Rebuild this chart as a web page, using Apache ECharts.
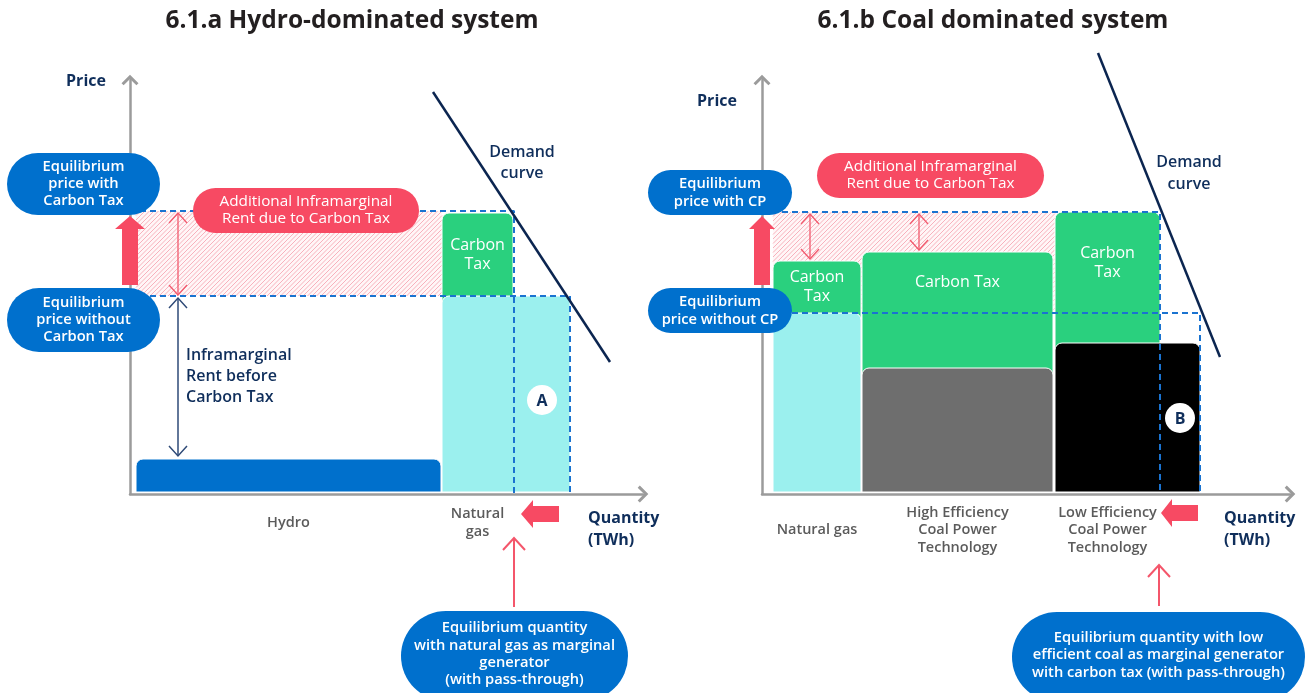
<!DOCTYPE html>
<html><head><meta charset="utf-8">
<script src="https://cdn.jsdelivr.net/npm/echarts@6/dist/echarts.min.js"></script>
<style>html,body{margin:0;padding:0;background:#fff}#c{width:1307px;height:693px}</style>
</head><body><div id="c"></div>
<script>
// ---------- Panel a: hydro-dominated system (schematic units) ----------
const catsA = ['Hydro', 'Natural\ngas'];
const qStartA = [6, 312];
const qEndA = [311, 440];
const costA = [35, 198];
const taxEndA = [null, 383];
const taxTopA = [null, 281];
const taxLabelsA = [null, 'Carbon\nTax'];
const priceNoTaxA = 198, priceTaxA = 283;
const eqQNoTaxA = 440, eqQTaxA = 384;
const demandA = [[303, 402], [480, 132]];
const extraRentArrowsA = [[48, 199, 281]];
const rentBeforeArrowsA = [[48, 38, 196]];

// ---------- Panel b: coal dominated system ----------
const catsB = ['Natural gas', 'High Efficiency\nCoal Power\nTechnology', 'Low Efficiency\nCoal Power\nTechnology'];
const qStartB = [11, 100, 293];
const qEndB = [99, 291, 438];
const costB = [181, 126, 151];
const taxEndB = [99, 291, 398];
const taxTopB = [233, 242, 282];
const taxLabelsB = ['Carbon\nTax', 'Carbon Tax', 'Carbon\nTax'];
const priceNoTaxB = 181, priceTaxB = 282;
const eqQNoTaxB = 438, eqQTaxB = 398;
const demandB = [[336, 441], [458, 137]];
const extraRentArrowsB = [[48, 235, 280], [157, 244, 280]];

// ---------- styles ----------
const baseColorsA = ['#0070CC', '#9BF0EE'];
const baseColorsB = ['#9BF0EE', '#6E6E6E', '#000000'];
const GREEN = '#2AD07E', NAVY = '#0F2E5B', BLUE = '#0070CD', RED = '#F74A63';
const FONT = '"Open Sans", "Noto Sans", sans-serif';

function txt(text, x, y, font, fill, align, lh) {
  return { text, x, y, font, fill, align: align || 'center', verticalAlign: 'middle',
           textAlign: align || 'center', textVerticalAlign: 'middle', lineHeight: lh || 20 };
}

function blocksRenderer(qs, qe, cost, te, tt, taxLbl, cats, colors, pNoTax, labelDy) {
  return function (params, api) {
    const i = params.dataIndex;
    const ch = [];
    if (te[i] != null) {
      const t0 = api.coord([qs[i], cost[i] - 12]);
      const t1 = api.coord([te[i], tt[i]]);
      ch.push({ type: 'rect', shape: { x: t0[0], y: t1[1], width: t1[0] - t0[0], height: t0[1] - t1[1], r: [7, 7, 0, 0] },
                style: { fill: GREEN, stroke: '#fff', lineWidth: 1 } });
    }
    const b0 = api.coord([qs[i], 2]);
    const b1 = api.coord([qe[i], cost[i]]);
    ch.push({ type: 'rect', shape: { x: b0[0], y: b1[1], width: b1[0] - b0[0], height: b0[1] - b1[1], r: [7, 7, 0, 0] },
              style: { fill: colors[i], stroke: '#fff', lineWidth: 1 } });
    if (te[i] != null) {
      const c = api.coord([(qs[i] + te[i]) / 2, (tt[i] + pNoTax) / 2]);
      ch.push({ type: 'text', z2: 5, style: txt(taxLbl[i], c[0], c[1], '16px ' + FONT, '#ffffff', 'center', 19) });
    }
    const lx = (qs[i] + (te[i] != null ? te[i] : qe[i])) / 2;
    const lp = api.coord([lx, 0]);
    ch.push({ type: 'text', style: txt(cats[i], lp[0], lp[1] + labelDy, '600 14.5px ' + FONT, '#5B5B5B', 'center', 17.5) });
    return { type: 'group', children: ch };
  };
}

// diagonal pink hatching between the two equilibrium prices
function hatchRenderer(q0, q1, p0, p1) {
  return function (params, api) {
    const a = api.coord([q0, p0]), b = api.coord([q1, p1]);
    const x0 = a[0], x1 = b[0], yb = a[1], yt = b[1], h = yb - yt;
    const ch = [{ type: 'rect', shape: { x: x0, y: yt, width: x1 - x0, height: h }, style: { fill: '#FFF6F7' } }];
    const step = 4.5;
    for (let s = x0 - h; s < x1; s += step) {
      const t0 = Math.max(0, x0 - s), t1 = Math.min(h, x1 - s);
      if (t1 <= t0) continue;
      ch.push({ type: 'line', shape: { x1: s + t0, y1: yb - t0, x2: s + t1, y2: yb - t1 },
                style: { stroke: '#F6A9B4', lineWidth: 0.9 } });
    }
    return { type: 'group', children: ch };
  };
}

function dblArrowRenderer(color, width) {
  return function (params, api) {
    const lo = api.coord([api.value(0), api.value(1)]);
    const hi = api.coord([api.value(0), api.value(2)]);
    const x = lo[0];
    const st = { stroke: color, lineWidth: width, fill: null };
    return { type: 'group', children: [
      { type: 'line', shape: { x1: x, y1: lo[1], x2: x, y2: hi[1] }, style: st },
      { type: 'polyline', shape: { points: [[x - 9, hi[1] + 10], [x, hi[1]], [x + 9, hi[1] + 10]] }, style: st },
      { type: 'polyline', shape: { points: [[x - 9, lo[1] - 10], [x, lo[1]], [x + 9, lo[1] - 10]] }, style: st }
    ] };
  };
}

const CHEVRON = 'path://M10,0L20,10L17.5,12.5L10,5L2.5,12.5L0,10Z';
function axisDef(grid, max) {
  return { gridIndex: grid, type: 'value', min: 0, max: max,
    axisLine: { show: true, onZero: false, lineStyle: { color: '#9B9B9B', width: 2.5 }, symbol: ['none', CHEVRON], symbolSize: [17, 11] },
    axisTick: { show: false }, axisLabel: { show: false }, splitLine: { show: false } };
}

function dashed(grid, pts) {
  return { type: 'line', xAxisIndex: grid, yAxisIndex: grid, data: pts, symbol: 'none', z: 3, silent: true,
           lineStyle: { color: '#1A73D0', width: 2, type: [6, 4] } };
}

function panelSeries(g, d) {
  return [
    { type: 'custom', xAxisIndex: g, yAxisIndex: g, z: 1, silent: true, data: [0],
      renderItem: hatchRenderer(d.qs[0], d.qs[d.qs.length - 1], d.pNo, d.pTax) },
    { type: 'custom', xAxisIndex: g, yAxisIndex: g, z: 2, silent: true,
      data: d.qs.map((q, i) => [q, d.qe[i], d.cost[i]]),
      renderItem: blocksRenderer(d.qs, d.qe, d.cost, d.te, d.tt, d.tl, d.cats, d.colors, d.pNo, d.labelDy) },
    dashed(g, [[0, d.pTax], [d.eqTax, d.pTax], [d.eqTax, 0]]),
    dashed(g, [[0, d.pNo], [d.eqNo, d.pNo], [d.eqNo, 0]]),
    { type: 'custom', xAxisIndex: g, yAxisIndex: g, z: 4, silent: true, data: d.pink,
      renderItem: dblArrowRenderer('#F25A6E', 1.3) },
    { type: 'line', xAxisIndex: g, yAxisIndex: g, z: 5, clip: false, silent: true, data: d.demand, symbol: 'none',
      lineStyle: { color: '#0B2550', width: 2.5 } }
  ];
}

const series = [].concat(
  panelSeries(0, { qs: qStartA, qe: qEndA, cost: costA, te: taxEndA, tt: taxTopA, tl: taxLabelsA, cats: catsA,
    colors: baseColorsA, pNo: priceNoTaxA, pTax: priceTaxA, eqNo: eqQNoTaxA, eqTax: eqQTaxA,
    demand: demandA, pink: extraRentArrowsA, labelDy: 29 }),
  panelSeries(1, { qs: qStartB, qe: qEndB, cost: costB, te: taxEndB, tt: taxTopB, tl: taxLabelsB, cats: catsB,
    colors: baseColorsB, pNo: priceNoTaxB, pTax: priceTaxB, eqNo: eqQNoTaxB, eqTax: eqQTaxB,
    demand: demandB, pink: extraRentArrowsB, labelDy: 36 }),
  [{ type: 'custom', xAxisIndex: 0, yAxisIndex: 0, z: 4, silent: true, data: rentBeforeArrowsA,
     renderItem: dblArrowRenderer('#2E4A77', 1.5) }]
);

// ---------- annotations ----------
function pill(x, y, w, h, color, text, font, lh, ty) {
  return { type: 'group', z: 100, children: [
    { type: 'rect', z: 100, shape: { x, y, width: w, height: h, r: h / 2 }, style: { fill: color } },
    { type: 'text', z: 101, style: txt(text, x + w / 2, ty != null ? ty : y + h / 2, font, '#ffffff', 'center', lh) }
  ] };
}
function label(text, x, y, font, fill, align, lh) {
  return { type: 'text', z: 100, style: txt(text, x, y, font, fill, align, lh) };
}
function upArrow(cx, tipY, baseY, bottomY, shaftHalf, headHalf) {
  return { type: 'polygon', z: 99, shape: { points: [[cx, tipY], [cx + headHalf, baseY], [cx + shaftHalf, baseY], [cx + shaftHalf, bottomY],
    [cx - shaftHalf, bottomY], [cx - shaftHalf, baseY], [cx - headHalf, baseY]] }, style: { fill: RED } };
}
function leftArrow(tipX, baseX, endX, cy, shaftHalf, headHalf) {
  return { type: 'polygon', z: 99, shape: { points: [[tipX, cy], [baseX, cy - headHalf], [baseX, cy - shaftHalf], [endX, cy - shaftHalf],
    [endX, cy + shaftHalf], [baseX, cy + shaftHalf], [baseX, cy + headHalf]] }, style: { fill: RED } };
}
function thinUp(x, top, bottom) {
  return { type: 'group', z: 99, children: [
    { type: 'line', z: 99, shape: { x1: x, y1: bottom, x2: x, y2: top }, style: { stroke: '#F4566B', lineWidth: 2 } },
    { type: 'polyline', z: 99, shape: { points: [[x - 11, top + 12], [x, top], [x + 11, top + 12]] }, style: { stroke: '#F4566B', lineWidth: 2, fill: null } }
  ] };
}
function circleLabel(t, cx, cy) {
  return { type: 'group', z: 100, children: [
    { type: 'circle', z: 100, shape: { cx, cy, r: 15 }, style: { fill: '#ffffff' } },
    { type: 'text', z: 101, style: txt(t, cx, cy + 1, 'bold 16px ' + FONT, NAVY, 'center', 18) }
  ] };
}

const PF = '600 14.7px ' + FONT, RF = '15.3px ' + FONT;
const graphics = [
  label('6.1.a Hydro-dominated system', 352, 21, 'bold 24.5px ' + FONT, '#231F20'),
  label('6.1.b Coal dominated system', 993, 21, 'bold 24.5px ' + FONT, '#231F20'),
  label('Price', 86, 81, 'bold 16px ' + FONT, NAVY),
  label('Price', 717, 101, 'bold 16px ' + FONT, NAVY),
  label('Demand\ncurve', 522, 163, '600 16px ' + FONT, NAVY, 'center', 21),
  label('Demand\ncurve', 1189, 173, '600 16px ' + FONT, NAVY, 'center', 22),
  label('Inframarginal\nRent before\nCarbon Tax', 186, 376, '600 16px ' + FONT, NAVY, 'left', 21),
  label('Quantity\n(TWh)', 588, 529, 'bold 16px ' + FONT, NAVY, 'left', 22),
  label('Quantity\n(TWh)', 1224, 529, 'bold 16px ' + FONT, NAVY, 'left', 22),
  upArrow(130, 216, 229, 285, 8, 15),
  upArrow(762, 216, 229, 285, 8, 13),
  leftArrow(521, 533, 559, 514, 8, 14),
  leftArrow(1161, 1172, 1198, 513, 8, 14),
  thinUp(514, 538, 607),
  thinUp(1159, 565, 606),
  pill(7, 153, 153, 62, BLUE, 'Equilibrium\nprice with\nCarbon Tax', PF, 17),
  pill(7, 288, 153, 64, BLUE, 'Equilibrium\nprice without\nCarbon Tax', PF, 17),
  pill(193, 188, 226, 45, RED, 'Additional Inframarginal\nRent due to Carbon Tax', RF, 17),
  pill(401, 611, 227, 90, BLUE, 'Equilibrium quantity\nwith natural gas as marginal\ngenerator\n(with pass-through)', PF, 17.3, 654),
  pill(648, 170, 144, 45, BLUE, 'Equilibrium\nprice with CP', PF, 18),
  pill(648, 288, 144, 45, BLUE, 'Equilibrium\nprice without CP', PF, 18),
  pill(817, 153, 227, 45, RED, 'Additional Inframarginal\nRent due to Carbon Tax', RF, 17),
  pill(1012, 612, 293, 90, BLUE, 'Equilibrium quantity with low\nefficient coal as marginal generator\nwith carbon tax (with pass-through)', PF, 17.5, 655),
  circleLabel('A', 542, 400),
  circleLabel('B', 1180, 418)
];

const chart = echarts.init(document.getElementById('c'), null, { renderer: 'canvas' });
chart.setOption({
  animation: false,
  backgroundColor: '#ffffff',
  textStyle: { fontFamily: FONT },
  grid: [
    { left: 130, top: 80, width: 513, height: 414 },
    { left: 762, top: 80, width: 528, height: 414 }
  ],
  xAxis: [axisDef(0, 513), axisDef(1, 528)],
  yAxis: [axisDef(0, 414), axisDef(1, 414)],
  series: series,
  graphic: { elements: graphics }
});
</script></body></html>
